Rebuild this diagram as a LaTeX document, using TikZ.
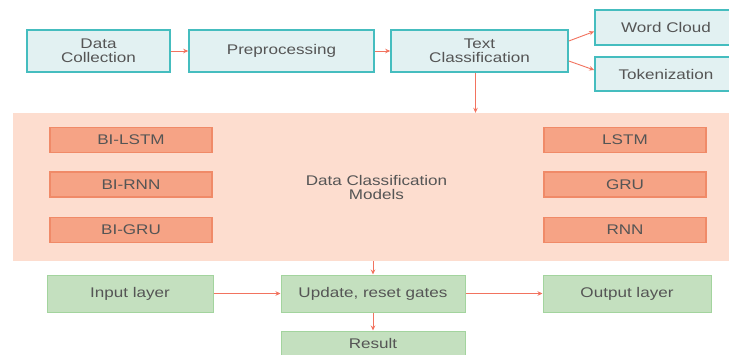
\documentclass[tikz,border=0pt]{standalone}
\usepackage{fontspec}
\setmainfont[FakeStretch=1.22]{Liberation Sans}
\usetikzlibrary{arrows.meta}
\definecolor{tealline}{HTML}{45BDBF}
\definecolor{tealfill}{HTML}{E2F1F2}
\definecolor{modelbg}{HTML}{FDDDCF}
\definecolor{modelfill}{HTML}{F6A385}
\definecolor{modelline}{HTML}{F08A68}
\definecolor{greenfill}{HTML}{C4E0BF}
\definecolor{greenline}{HTML}{A3D49E}
\definecolor{arrowcol}{HTML}{F2735F}
\definecolor{textcol}{HTML}{555555}
\tikzset{
  base/.style={rectangle, inner sep=0pt, align=center, text=textcol,
    font=\fontsize{14}{14}\selectfont},
  tealbox/.style={base, draw=tealline, fill=tealfill, line width=1.6pt},
  modelbox/.style={base, draw=modelline, fill=modelfill, line width=1.2pt,
    minimum width=162pt, minimum height=25pt},
  greenbox/.style={base, draw=greenline, fill=greenfill, line width=1pt},
  flow/.style={draw=arrowcol, line width=0.9pt, -{Stealth[length=5pt,width=4.5pt]}}
}
\begin{document}
\begin{tikzpicture}[x=1pt, y=-1pt]
\useasboundingbox (0,0) rectangle (729,354);
\fill[white] (0,0) rectangle (729,354);

% pipeline, top row
\node[tealbox, minimum width=143pt, minimum height=42pt] (collect) at (98.5,51) {Data\\Collection};
\node[tealbox, minimum width=185pt, minimum height=42pt] (prep) at (281.5,51) {Preprocessing};
\node[tealbox, minimum width=177pt, minimum height=42pt] (textcls) at (479.5,51) {Text\\Classification};
\node[tealbox, minimum width=142pt, minimum height=35pt] (cloud) at (666,27.5) {Word Cloud};
\node[tealbox, minimum width=142pt, minimum height=34pt] (token) at (666,74) {Tokenization};

% model panel
\node[base, fill=modelbg, minimum width=727pt, minimum height=148pt] (models) at (376.5,187)
  {Data Classification\\Models};
\node[modelbox] (bilstm) at (131,140) {BI-LSTM};
\node[modelbox] (birnn) at (131,184.5) {BI-RNN};
\node[modelbox] (bigru) at (131,230) {BI-GRU};
\node[modelbox] (lstm) at (625,140) {LSTM};
\node[modelbox] (gru) at (625,184.5) {GRU};
\node[modelbox] (rnn) at (625,230) {RNN};

% gated layers
\node[greenbox, minimum width=166pt, minimum height=37pt] (input) at (130,293.5) {Input layer};
\node[greenbox, minimum width=184pt, minimum height=37pt] (gates) at (373,293.5) {Update, reset gates};
\node[greenbox, minimum width=168pt, minimum height=37pt] (output) at (627,293.5) {Output layer};
\node[greenbox, minimum width=184pt, minimum height=25pt] (result) at (373,343.5) {Result};

% connectors
\draw[flow] (collect) -- (prep);
\draw[flow] (prep) -- (textcls);
\draw[flow] ([yshift=10pt]textcls.east) -- ([yshift=-4pt]cloud.west);
\draw[flow] ([yshift=-10pt]textcls.east) -- ([yshift=4pt]token.west);
\draw[flow] ([xshift=-4pt]textcls.south) -- ([xshift=-4pt]textcls.south |- models.north);
\draw[flow] (gates.north |- models.south) -- (gates.north);
\draw[flow] (input) -- (gates);
\draw[flow] (gates) -- (output);
\draw[flow] (gates) -- (result);
\end{tikzpicture}
\end{document}
